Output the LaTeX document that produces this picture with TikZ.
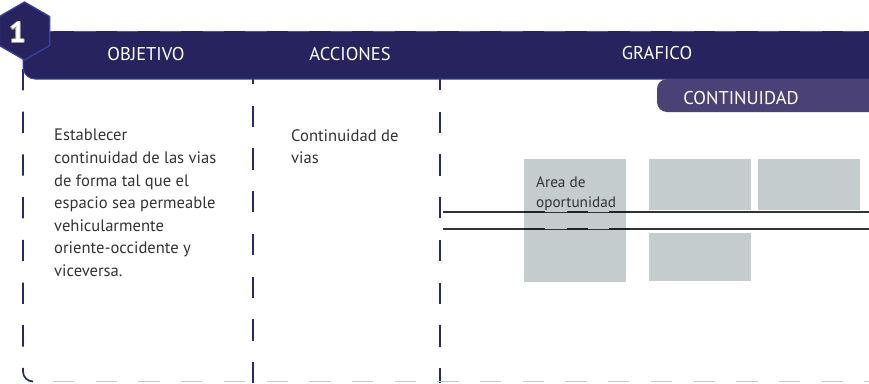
\documentclass[tikz,border=0pt]{standalone}
\usepackage{fontspec}
\setmainfont{PT Sans}
\usetikzlibrary{shapes.geometric}
\definecolor{navy}{HTML}{27235F}
\definecolor{hexborder}{HTML}{3C409E}
\definecolor{tabcol}{HTML}{4A4177}
\definecolor{dashnavy}{HTML}{2A2869}
\definecolor{lavender}{HTML}{C9C5E0}
\definecolor{topdash}{HTML}{4352AA}
\definecolor{boxgray}{HTML}{C5CCCD}
\definecolor{txt}{HTML}{333333}
\definecolor{roadcol}{HTML}{333333}
\definecolor{roaddark}{HTML}{222222}
\tikzset{
  vdash/.style={draw=dashnavy, line width=1.7pt, dash pattern=on 21.3pt off 21.4pt},
  bdash/.style={draw=lavender, line width=1.6pt, dash pattern=on 21.3pt off 21.4pt},
  tdash/.style={draw=topdash, line width=1.2pt, dash pattern=on 21.3pt off 21.4pt},
  headtxt/.style={text=white, inner sep=0pt, font=\fontsize{18.5}{22}\selectfont},
  bodytxt/.style={text=txt, inner sep=0pt, anchor=north west, align=left, font=\fontsize{16.6}{22.6}\selectfont},
  boxtxt/.style={text=txt, inner sep=0pt, anchor=north west, align=left, font=\fontsize{15.2}{20}\selectfont},
  graybox/.style={fill=boxgray, inner sep=0pt, anchor=north west},
  road/.style={draw=roadcol, line width=1.5pt},
  roadthin/.style={draw=roadcol, line width=0.9pt},
  roaddash/.style={draw=roaddark, line width=2.8pt, dash pattern=on 21pt off 21.5pt},
}
\begin{document}
\begin{tikzpicture}[x=1pt,y=-1pt]
\useasboundingbox (0,0) rectangle (869,383);
% frame lines
\coordinate (lt) at (23,69);
\coordinate (lb) at (23,371.5);
\coordinate (mt) at (253,63);
\coordinate (mb) at (253,383);
\coordinate (rt) at (440,69);
\coordinate (rb) at (440,383);
\coordinate (bl) at (53,381.5);
\coordinate (br) at (869,381.5);
\draw[vdash] (lt) -- (lb) arc[start angle=180, end angle=90, radius=10];
\draw[vdash] (mt) -- (mb);
\draw[vdash] (rt) -- (rb);
\draw[bdash] (bl) -- (br);
% header bar
\fill[navy] (869,31) -- (23,31) -- (23,67) arc[start angle=180, end angle=90, radius=12] -- (869,79) -- cycle;
\draw[hexborder, line width=1pt] (23,31) -- (23,67) arc[start angle=180, end angle=90, radius=12] -- (869,79);
\draw[tdash] (31.7,31.4) -- (869,31.4);
% hexagon badge
\node[regular polygon, regular polygon sides=6, minimum size=58pt, inner sep=0pt,
      fill=navy, draw=hexborder, line width=1.3pt, rotate=30] (hex) at (24.5,31) {};
\foreach \dx/\dy [count=\i] in {0.8/0,-0.8/0,0/0.8,0/-0.8,0.6/0.6,-0.6/0.6,0.6/-0.6,-0.6/-0.6}
  \node[text=gray!80, inner sep=0pt, font=\fontsize{29}{30}\bfseries\selectfont] (one\i) at (17.5+\dx,32.5+\dy) {1};
\node[text=white, inner sep=0pt, font=\fontsize{29}{30}\bfseries\selectfont] (one) at (17.5,32.5) {1};
% header labels
\node[headtxt] (hobj) at (146,54) {OBJETIVO};
\node[headtxt] (hacc) at (350,54) {ACCIONES};
\node[headtxt] (hgra) at (657,53) {GRAFICO};
% continuidad tab
\fill[tabcol] (869,79) -- (667,79) arc[start angle=270, end angle=180, radius=10] -- (657,102) arc[start angle=180, end angle=90, radius=10] -- (869,112) -- cycle;
\node[headtxt] (hcont) at (741,98) {CONTINUIDAD};
% column texts
\node[bodytxt] (obj) at (54,129) {Establecer\\continuidad de las vias\\de forma tal que el\\espacio sea permeable\\vehicularmente\\oriente-occidente y\\viceversa.};
\node[bodytxt] (acc) at (291,129) {Continuidad de\\vias};
% graphic
\node[graybox, minimum width=102pt, minimum height=123pt] (opp) at (524,159) {};
\node[graybox, minimum width=102pt, minimum height=51pt] (b2) at (649,159) {};
\node[graybox, minimum width=102pt, minimum height=51pt] (b3) at (758,159) {};
\node[graybox, minimum width=102pt, minimum height=48pt] (b4) at (649,233) {};
\node[boxtxt] (opptxt) at (536,176.5) {Area de\\oportunidad};
% roads
\coordinate (r1a) at (443,212); \coordinate (r1b) at (524,212); \coordinate (r1c) at (630,212); \coordinate (r1d) at (869,212);
\coordinate (r2a) at (443,229); \coordinate (r2b) at (524,229); \coordinate (r2c) at (630,229); \coordinate (r2d) at (869,229);
\draw[roadthin] (r1b) -- (r1c);
\draw[roadthin] (r2b) -- (r2c);
\draw[road] (r1a) -- (r1b);
\draw[road] (r1c) -- (r1d);
\draw[road] (r2a) -- (r2b);
\draw[road] (r2c) -- (r2d);
\draw[roaddash] (r1b) -- (r1c);
\draw[roaddash] (r2b) -- (r2c);
\end{tikzpicture}
\end{document}
